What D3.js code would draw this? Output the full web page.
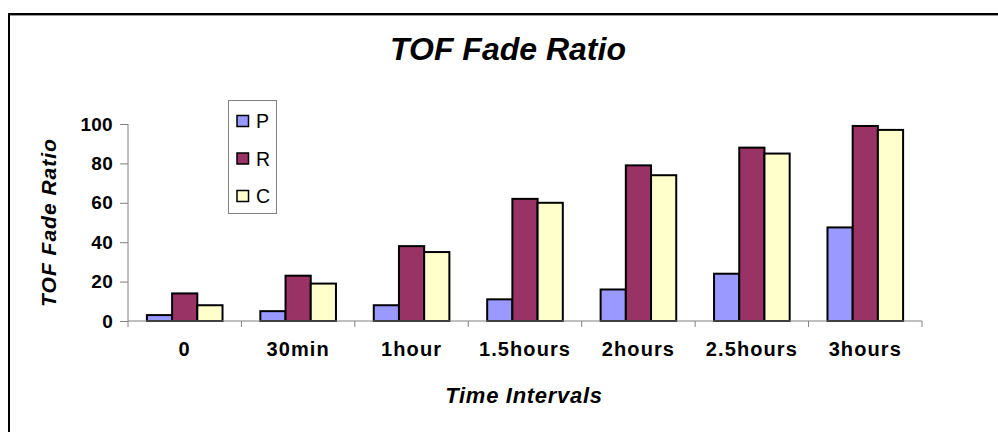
<!DOCTYPE html>
<html><head><meta charset="utf-8">
<script src="https://cdn.jsdelivr.net/npm/d3@7/dist/d3.min.js"></script>
<style>
html,body{margin:0;padding:0;background:#fff;}
svg{display:block;font-family:"Liberation Sans",Arial,sans-serif;}
</style></head>
<body>
<svg id="chart" width="998" height="432"></svg>
<script>
const categories = ["0","30min","1hour","1.5hours","2hours","2.5hours","3hours"];
const seriesNames = ["P","R","C"];
const valuesP = [3, 5, 8, 11, 16, 24, 47.5];
const valuesR = [14, 23, 38, 62, 79, 88, 99];
const valuesC = [8, 19, 35, 60, 74, 85, 97];
const yTicks = [0, 20, 40, 60, 80, 100];
const colors = ["#9999FF", "#993366", "#FFFFCC"];

const seriesValues = [valuesP, valuesR, valuesC];
const svg = d3.select("#chart");

// outer border
svg.append("rect").attr("x", 9).attr("y", 14).attr("width", 1100).attr("height", 600)
  .attr("fill", "none").attr("stroke", "#000").attr("stroke-width", 2);
svg.append("line").attr("x1", 10).attr("x2", 998).attr("y1", 15.5).attr("y2", 15.5)
  .attr("stroke", "#999").attr("stroke-width", 1);

const pLeft = 128, pRight = 922, pTop = 124, pBottom = 321;
const x0 = d3.scaleBand().domain(categories).range([pLeft, pRight]).padding(0);
const bw = x0.bandwidth();
const gapHalf = bw * 0.75 / 4.5;
const x1 = d3.scaleBand().domain(seriesNames).range([gapHalf, bw - gapHalf]).padding(0);
const y = d3.scaleLinear().domain([0, 100]).range([pBottom, pTop]);

// bars
const groups = svg.append("g").selectAll("g").data(categories).join("g")
  .attr("transform", d => `translate(${x0(d)},0)`);
groups.selectAll("rect")
  .data((c, i) => seriesNames.map((s, k) => ({s, k, v: seriesValues[k][i]})))
  .join("rect")
  .attr("x", d => x1(d.s))
  .attr("width", x1.bandwidth())
  .attr("y", d => y(d.v))
  .attr("height", d => y(0) - y(d.v))
  .attr("fill", d => colors[d.k])
  .attr("stroke", "#000").attr("stroke-width", 2);

// y axis
const yAxis = d3.axisLeft(y).tickValues(yTicks).tickSize(8).tickPadding(7);
const gy = svg.append("g").attr("transform", `translate(${pLeft},0)`).call(yAxis);
gy.select(".domain").attr("stroke", "#808080").attr("d", `M0,${pTop}V${pBottom}`);
gy.selectAll(".tick line").attr("stroke", "#808080");
gy.selectAll(".tick text").attr("fill", "#000").attr("font-size", "19px")
  .attr("font-weight", "bold").attr("letter-spacing", "0.3px")
  .attr("font-family", '"Liberation Sans",Arial,sans-serif');

// x axis
const xAxis = d3.axisBottom(x0).tickSize(0).tickPadding(21);
const gx = svg.append("g").attr("transform", `translate(0,${pBottom})`).call(xAxis);
gx.select(".domain").attr("stroke", "#808080").attr("d", `M${pLeft},0H${pRight}`);
gx.selectAll(".tick text").attr("fill", "#000").attr("font-size", "20px")
  .attr("font-weight", "bold").attr("letter-spacing", "1.1px")
  .attr("font-family", '"Liberation Sans",Arial,sans-serif');
// category boundary ticks
const bounds = categories.map(c => x0(c)).concat([pRight]);
svg.append("g").selectAll("line").data(bounds).join("line")
  .attr("x1", d => d).attr("x2", d => d).attr("y1", pBottom).attr("y2", pBottom + 6)
  .attr("stroke", "#808080");

// titles
svg.append("text").attr("x", 508).attr("y", 60).attr("text-anchor", "middle")
  .attr("font-size", "32px").attr("font-weight", "bold").attr("font-style", "italic")
  .text("TOF Fade Ratio");
svg.append("text").attr("x", 524).attr("y", 403).attr("text-anchor", "middle")
  .attr("font-size", "22px").attr("font-weight", "bold").attr("font-style", "italic")
  .attr("letter-spacing", "0.7px")
  .text("Time Intervals");
svg.append("text").attr("transform", `translate(56,${(pTop + pBottom) / 2}) rotate(-90)`)
  .attr("text-anchor", "middle")
  .attr("font-size", "21px").attr("font-weight", "bold").attr("font-style", "italic")
  .attr("letter-spacing", "1px")
  .text("TOF Fade Ratio");

// legend
const lg = svg.append("g");
lg.append("rect").attr("x", 228.5).attr("y", 100.5).attr("width", 48).attr("height", 113)
  .attr("fill", "#fff").attr("stroke", "#808080").attr("stroke-width", 1);
const items = lg.selectAll("g.item").data(seriesNames).join("g").attr("class", "item")
  .attr("transform", (d, i) => `translate(0,${121 + i * 37.5})`);
items.append("rect").attr("x", 237).attr("y", -5.5).attr("width", 11.5).attr("height", 11)
  .attr("fill", (d, i) => colors[i]).attr("stroke", "#000").attr("stroke-width", 1.5);
items.append("text").attr("x", 256).attr("y", 7).attr("font-size", "19.5px").text(d => d);
</script>
</body></html>
